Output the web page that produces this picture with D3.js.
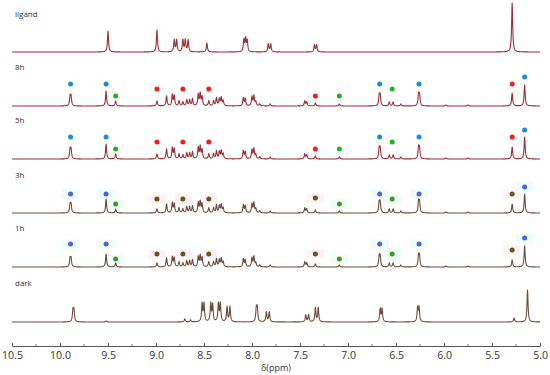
<!DOCTYPE html>
<html>
<head>
<meta charset="utf-8">
<script src="https://cdn.jsdelivr.net/npm/d3@7"></script>
<style>
  body { margin: 0; background: #fff; }
  #chart { width: 550px; height: 375px; }
  text { font-family: "Open Sans", "DejaVu Sans", sans-serif; }
</style>
</head>
<body>
<div id="chart"></div>
<script>
// spectra rows (top to bottom)
const rowNames = ['ligand', '8h', '5h', '3h', '1h', 'dark'];

// peak lists per spectrum: [ppm, intensity]
const ligandPeaks = [[9.50, 21], [8.99, 22], [8.81, 12], [8.785, 12], [8.72, 12], [8.695, 12], [8.665, 12],
  [8.47, 9], [8.085, 12], [8.067, 13], [8.05, 11], [7.83, 8], [7.805, 8], [7.35, 7], [7.327, 7], [5.29, 49]];
const h8Peaks = [[9.895, 9], [9.885, 9], [9.52, 15], [9.42, 5], [8.99, 5], [8.89, 10], [8.83, 11], [8.81, 10],
  [8.76, 5], [8.72, 4], [8.68, 6], [8.65, 6], [8.62, 7], [8.56, 11], [8.54, 12], [8.52, 9], [8.45, 5],
  [8.40, 5], [8.37, 8], [8.34, 7], [8.32, 8], [8.30, 5], [8.09, 8], [8.07, 7], [8.00, 9], [7.98, 10],
  [7.96, 4], [7.92, 2], [7.81, 2], [7.45, 5], [7.43, 4], [7.34, 3], [7.09, 2], [6.675, 10], [6.665, 10],
  [6.57, 4], [6.53, 4], [6.45, 2], [6.265, 11], [6.255, 10], [5.98, 1], [5.75, 1], [5.29, 13], [5.16, 21]];
const h5Peaks = [[9.895, 9], [9.885, 9], [9.52, 15], [9.42, 5], [8.99, 5], [8.89, 10], [8.83, 11], [8.81, 10],
  [8.76, 5], [8.72, 4], [8.68, 6], [8.65, 6], [8.62, 7], [8.56, 11], [8.54, 12], [8.52, 9], [8.45, 5],
  [8.40, 5], [8.37, 8], [8.34, 7], [8.32, 8], [8.30, 5], [8.09, 8], [8.07, 7], [8.00, 9], [7.98, 10],
  [7.96, 4], [7.92, 2], [7.81, 2], [7.45, 5], [7.43, 4], [7.34, 3], [7.09, 2], [6.675, 10], [6.665, 10],
  [6.57, 4], [6.53, 4], [6.45, 2], [6.265, 11], [6.255, 10], [5.98, 1], [5.75, 1], [5.29, 12], [5.16, 22]];
const h3Peaks = [[9.895, 8], [9.885, 8], [9.52, 14], [9.42, 4], [8.99, 4], [8.89, 9], [8.83, 10], [8.81, 9],
  [8.76, 5], [8.72, 4], [8.68, 6], [8.65, 6], [8.62, 7], [8.56, 10], [8.54, 11], [8.52, 9], [8.45, 5],
  [8.40, 5], [8.37, 8], [8.34, 7], [8.32, 8], [8.30, 5], [8.09, 8], [8.07, 7], [8.00, 9], [7.98, 10],
  [7.96, 4], [7.92, 2], [7.81, 2], [7.45, 5], [7.43, 4], [7.34, 3], [7.09, 2], [6.675, 10], [6.665, 10],
  [6.57, 4], [6.53, 4], [6.45, 2], [6.265, 11], [6.255, 10], [5.98, 1], [5.75, 1], [5.29, 9], [5.16, 19]];
const h1Peaks = [[9.895, 8], [9.885, 8], [9.52, 13], [9.42, 4], [8.99, 4], [8.89, 9], [8.83, 10], [8.81, 9],
  [8.76, 5], [8.72, 4], [8.68, 6], [8.65, 6], [8.62, 7], [8.56, 10], [8.54, 11], [8.52, 9], [8.45, 5],
  [8.40, 5], [8.37, 8], [8.34, 7], [8.32, 8], [8.30, 5], [8.09, 8], [8.07, 7], [8.00, 9], [7.98, 10],
  [7.96, 4], [7.92, 2], [7.81, 2], [7.45, 5], [7.43, 4], [7.34, 3], [7.09, 2], [6.675, 10], [6.665, 10],
  [6.57, 4], [6.53, 4], [6.45, 2], [6.265, 11], [6.255, 10], [5.98, 1], [5.75, 1], [5.29, 7], [5.16, 21]];
const darkPeaks = [[9.865, 11], [9.855, 11], [9.52, 1], [8.70, 3], [8.64, 2], [8.52, 18], [8.50, 18],
  [8.43, 18], [8.41, 17], [8.35, 18], [8.33, 18], [8.26, 15], [8.23, 15], [7.955, 13], [7.945, 13],
  [7.85, 10], [7.82, 10], [7.44, 7], [7.41, 7], [7.34, 14], [7.31, 14], [6.665, 13], [6.645, 13],
  [6.275, 14], [6.26, 14], [5.27, 4], [5.13, 32]];
const rowPeaks = [ligandPeaks, h8Peaks, h5Peaks, h3Peaks, h1Peaks, darkPeaks];

// markers per row: [ppm, level, kind]
const h8Marks = [[9.89, 22, 'b'], [9.52, 22, 'b'], [9.42, 10, 'g'], [8.99, 17, 'r'], [8.72, 17, 'r'],
  [8.45, 17, 'r'], [7.34, 10, 'r'], [7.09, 10, 'g'], [6.67, 22, 'b'], [6.54, 17, 'g'], [6.26, 22, 'b'],
  [5.29, 22, 'r'], [5.16, 29, 'b']];
const h5Marks = [[9.89, 22, 'b'], [9.52, 22, 'b'], [9.42, 10, 'g'], [8.99, 17, 'r'], [8.72, 17, 'r'],
  [8.45, 17, 'r'], [7.34, 10, 'r'], [7.09, 10, 'g'], [6.67, 22, 'b'], [6.54, 17, 'g'], [6.26, 22, 'b'],
  [5.29, 22, 'r'], [5.16, 29, 'b']];
const h3Marks = [[9.89, 19, 'b'], [9.52, 19, 'b'], [9.42, 9, 'g'], [8.99, 14, 'o'], [8.72, 14, 'o'],
  [8.45, 14, 'o'], [7.34, 15, 'o'], [7.09, 9, 'g'], [6.67, 19, 'b'], [6.54, 14, 'g'], [6.26, 19, 'b'],
  [5.29, 19, 'o'], [5.16, 26, 'b']];
const h1Marks = [[9.89, 23, 'b'], [9.52, 23, 'b'], [9.42, 8, 'g'], [8.99, 13, 'o'], [8.72, 13, 'o'],
  [8.45, 13, 'o'], [7.34, 13, 'o'], [7.09, 8, 'g'], [6.67, 23, 'b'], [6.54, 13, 'g'], [6.26, 23, 'b'],
  [5.29, 17, 'o'], [5.16, 29, 'b']];
const rowMarks = [[], h8Marks, h5Marks, h3Marks, h1Marks, []];

const tickValues = [10.5, 10.0, 9.5, 9.0, 8.5, 8.0, 7.5, 7.0, 6.5, 6.0, 5.5, 5.0];
const minorTicks = [10.25, 9.75, 9.25, 8.75, 8.25, 7.75, 7.25, 6.75, 6.25, 5.75, 5.25];

document.addEventListener('DOMContentLoaded', () => {
    const width = 550, height = 375;
    const svg = d3.select('#chart').append('svg')
        .attr('width', width)
        .attr('height', height);

    const x = d3.scaleLinear().domain([10.5, 5.0]).range([12, 540]);
    const rowBase = [52, 106, 159, 213, 267, 322];   // baseline y of each trace
    const labelY = [17, 70, 123, 178, 231, 286];
    const lineColor = ['#9c2f38', '#9c2f38', '#9c2f38', '#6f4a3c', '#6f4a3c', '#6f4a3c'];
    const markColor = [
        { b: '#1a8be0', r: '#f51c1c', g: '#1cb51c' },
        { b: '#1a8be0', r: '#f51c1c', g: '#1cb51c' },
        { b: '#1a8be0', r: '#f51c1c', g: '#1cb51c' },
        { b: '#5060df', o: '#6a5316', g: '#3f9a22' },
        { b: '#5060df', o: '#6a5316', g: '#3f9a22' },
        {}
    ];

    // sampled ppm grid
    const grid = d3.range(10.5, 4.999, -0.002);
    const hw = 0.0065; // lorentzian half width

    function spectrum(peaks) {
        return grid.map(p => {
            let s = 0;
            peaks.forEach(([c, h]) => { s += h * hw * hw / ((p - c) * (p - c) + hw * hw); });
            return [p, s];
        });
    }

    rowNames.forEach((name, i) => {
        const y = d3.scaleLinear().domain([0, 50]).range([rowBase[i], rowBase[i] - 50]);
        const g = svg.append('g');

        // faint highlight boxes behind the markers
        if (i === 3 || i === 4) {
            g.selectAll('rect.hl')
                .data(rowMarks[i])
                .enter().append('rect')
                .attr('x', d => x(d[0]) - 9)
                .attr('y', d => y(d[1]) - 4.5)
                .attr('width', 18)
                .attr('height', 9)
                .attr('fill', d => d[2] === 'o' ? '#fdf2f6' : '#eefcfc');
        }

        g.append('text')
            .attr('x', 15)
            .attr('y', labelY[i])
            .attr('font-size', 8)
            .attr('fill', '#333')
            .text(name);

        const line = d3.line().x(d => x(d[0])).y(d => y(d[1]));
        g.append('path')
            .datum(spectrum(rowPeaks[i]))
            .attr('d', line)
            .attr('fill', 'none')
            .attr('stroke', lineColor[i])
            .attr('stroke-width', 1.1)
            .attr('stroke-linejoin', 'round');

        g.selectAll('circle')
            .data(rowMarks[i])
            .enter().append('circle')
            .attr('cx', d => x(d[0]))
            .attr('cy', d => y(d[1]))
            .attr('r', 2.5)
            .attr('fill', d => markColor[i][d[2]]);
    });

    // ppm axis
    const axisY = 346;
    const axis = d3.axisBottom(x)
        .tickValues(tickValues)
        .tickFormat(d3.format('.1f'))
        .tickSizeInner(-3)
        .tickSizeOuter(0)
        .tickPadding(6);
    const ax = svg.append('g')
        .attr('transform', `translate(0,${axisY})`)
        .call(axis);
    ax.select('.domain').attr('stroke', '#555');
    ax.selectAll('.tick line').attr('stroke', '#555');
    ax.selectAll('.tick text')
        .attr('font-size', 10.5)
        .attr('font-family', '"Open Sans", sans-serif')
        .attr('fill', '#333');

    svg.append('g').selectAll('line')
        .data(minorTicks)
        .enter().append('line')
        .attr('x1', d => x(d)).attr('x2', d => x(d))
        .attr('y1', axisY).attr('y2', axisY - 2)
        .attr('stroke', '#777');

    svg.append('text')
        .attr('x', 276)
        .attr('y', 371)
        .attr('text-anchor', 'middle')
        .attr('font-size', 9)
        .attr('fill', '#333')
        .text('δ(ppm)');
});
</script>
</body>
</html>
